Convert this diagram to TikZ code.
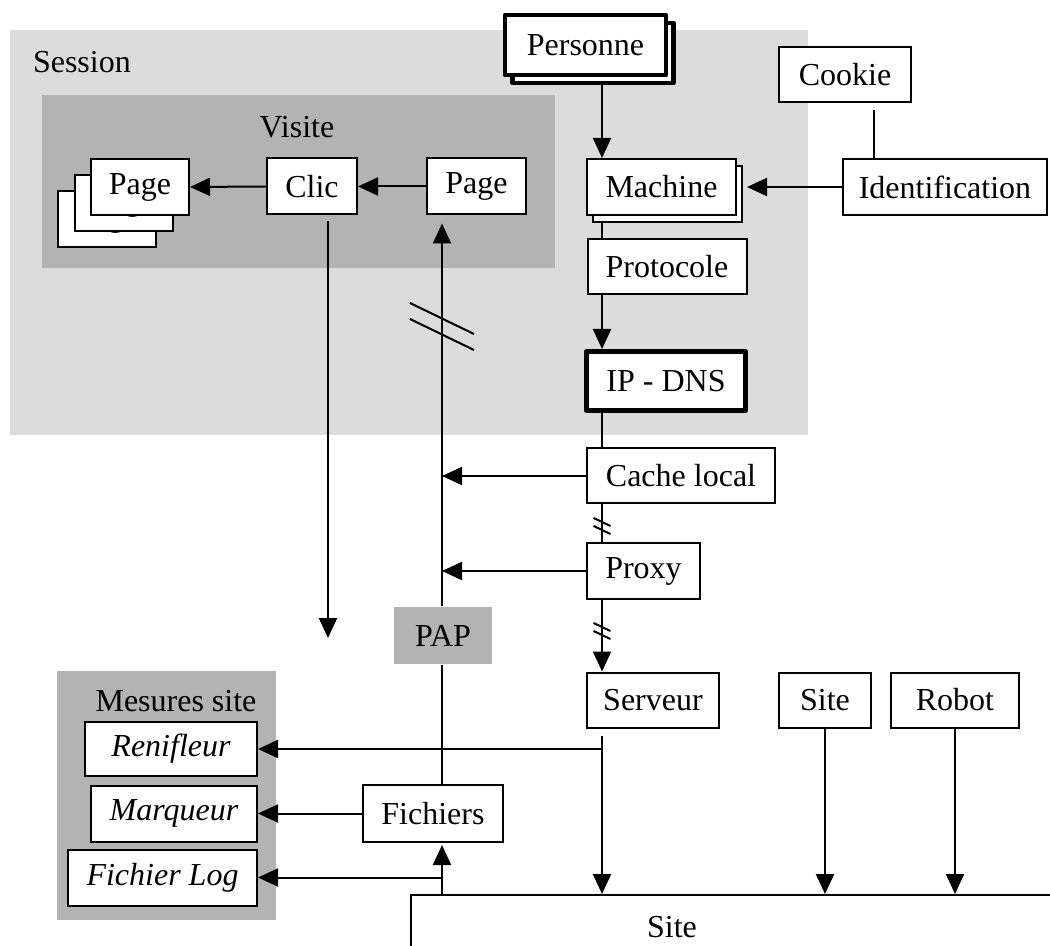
\documentclass[tikz,border=0pt]{standalone}
\usepackage{fontspec}
\setmainfont{Liberation Serif}
\usetikzlibrary{arrows.meta}
\definecolor{lightbg}{gray}{0.863}
\definecolor{darkbg}{gray}{0.702}
\begin{document}
\begin{tikzpicture}[x=0.5pt,y=-0.5pt,line width=1pt,line cap=butt,line join=miter,>={Triangle[length=10pt,width=9pt]},font=\fontsize{16}{19}\selectfont]
	\tikzset{box/.style={draw,fill=white,inner sep=0pt,minimum height=28pt},
		thickbox/.style={box,line width=2.2pt,line join=round},
		zone/.style={inner sep=0pt}}
	\useasboundingbox (0,0) rectangle (1050,946);
	% zones
	\fill[lightbg] (10,30) rectangle (808,435);
	\fill[darkbg] (42,95) rectangle (555,268);
	\fill[darkbg] (57,671) rectangle (276,920);
	\node[zone,anchor=west] (session) at (32,62) {Session};
	\node[zone] (visite) at (297,127) {Visite};
	\node[zone] (mesures) at (176,701) {Mesures site};
	\coordinate (colm) at (602,0);
	\coordinate (colp) at (442,0);
	% colonne de droite
	\node[thickbox,minimum width=80.5pt,minimum height=30pt] (persb) at (593,53) {};
	\node[thickbox,minimum width=80.5pt,minimum height=30pt] (pers) at (585.5,45) {Personne};
	\node[box,minimum width=66pt,minimum height=27.5pt] (cookie) at (845,75) {Cookie};
	\node[box,minimum width=102pt] (ident) at (945,187) {Identification};
	\node[box,minimum width=74.5pt] (machb) at (667.5,194) {};
	\node[box,minimum width=74.5pt] (mach) at (661.5,187) {Machine};
	\node[box,minimum width=79.5pt,minimum height=27.5pt] (proto) at (667,267) {Protocole};
	\node[thickbox,line width=2.5pt,minimum width=79.5pt,minimum height=29.5pt] (ipdns) at (666,381) {IP - DNS};
	\node[box,minimum width=94pt,minimum height=27.5pt] (cache) at (681,476) {Cache local};
	\node[box,minimum width=56.5pt,minimum height=27.5pt] (proxy) at (643.5,571) {Proxy};
	\node[box,minimum width=66pt,minimum height=27.5pt] (serveur) at (653,700) {Serveur};
	\node[box,minimum width=46pt,minimum height=27.5pt] (sitebox) at (825,700) {Site};
	\node[box,minimum width=64pt,minimum height=27.5pt] (robot) at (955,700) {Robot};
	\node[box,anchor=north west,minimum width=330pt,minimum height=40pt] (bigsite) at (410,894) {};
	\node[zone] (sitelbl) at (672,927) {Site};
	% visite
	\node[box,minimum width=49pt] (pagec) at (107,219) {Page};
	\node[box,minimum width=49pt] (pageb) at (124,203) {Page};
	\node[box,minimum width=49pt] (page) at (140,187) {Page};
	\node[box,minimum width=45pt] (clic) at (312,186.5) {Clic};
	\node[box,minimum width=49.5pt] (pagen) at (476.5,186.5) {Page};
	\node[fill=darkbg,inner sep=0pt,minimum width=49pt,minimum height=28.5pt] (pap) at (443,635.5) {PAP};
	\node[box,minimum width=70pt,minimum height=28.5pt] (fich) at (433,813.5) {Fichiers};
	% mesures site
	\node[box,minimum width=86pt,minimum height=27pt] (renif) at (171,749) {\itshape Renifleur};
	\node[box,minimum width=83pt] (marq) at (174,813.5) {\itshape Marqueur};
	\node[box,minimum width=94.5pt] (flog) at (162.5,877.5) {\itshape Fichier Log};
	% liaisons
	\draw[->] (persb.south -| colm) -- (mach.north -| colm);
	\draw[->,shorten >=2pt] (ident.west) -- (ident.west -| machb.east);
	\draw[shorten <=3.5pt] ([xshift=14.5pt]cookie.south) -- ([xshift=14.5pt]cookie.south |- ident.north);
	\draw (machb.south -| colm) -- (proto.north -| colm);
	\draw[->] (proto.south -| colm) -- (ipdns.north -| colm);
	\draw (ipdns.south -| colm) -- (cache.north -| colm);
	\draw (cache.south -| colm) -- (proxy.north -| colm);
	\draw[->] (proxy.south -| colm) -- (serveur.north -| colm);
	\draw[->,shorten <=3.5pt] (serveur.south -| colm) -- (bigsite.north -| colm);
	\coordinate (renifbr) at (renif.east -| colm);
	\draw[->] (renifbr) -- (renif.east);
	\draw[->] (sitebox.south) -- (sitebox.south |- bigsite.north);
	\draw[->] (robot.south) -- (robot.south |- bigsite.north);
	\draw[->,shorten >=1pt] (bigsite.north -| colp) -- (fich.south -| colp);
	\draw[->] (flog.east -| colp) -- (flog.east);
	\draw[->] (fich.west) -- (marq.east);
	\draw (fich.north -| colp) -- (pap.south -| colp);
	\draw[->,shorten >=4pt] (pap.north -| colp) -- (pagen.south -| colp);
	\draw[->] (cache.west) -- (cache.west -| colp);
	\draw[->] (proxy.west) -- (proxy.west -| colp);
	\draw[->] (pagen.west) -- (clic.east);
	\draw[->] (clic.west) -- (page.east);
	\coordinate (clicend) at (328,638);
	\draw[->,shorten <=3pt] (clic.south -| clicend) -- (clicend);
	% coupures
	\coordinate (hb) at (442,326.5);
	\draw (hb) ++(-32,-23.5) -- ++(64,31) (hb) ++(-32,-7.5) -- ++(64,31);
	\coordinate (hc) at (602,526);
	\draw (hc) ++(-8.5,-8) -- ++(17,8) (hc) ++(-8.5,0) -- ++(17,8);
	\coordinate (hd) at (602,631);
	\draw (hd) ++(-8.5,-8) -- ++(17,8) (hd) ++(-8.5,0) -- ++(17,8);
\end{tikzpicture}
\end{document}
